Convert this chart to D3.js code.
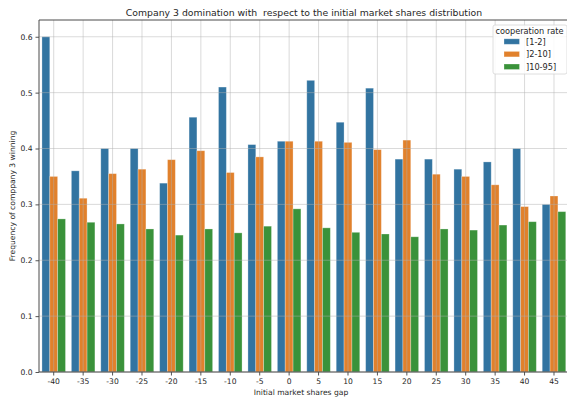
<!DOCTYPE html>
<html>
<head>
<meta charset="utf-8">
<script src="https://cdn.jsdelivr.net/npm/d3@7"></script>
<style>
  html, body { margin: 0; padding: 0; background: #fff; }
  svg { display: block; font-family: "DejaVu Sans", sans-serif; }
</style>
</head>
<body>
<svg id="chart" width="567" height="399"></svg>
<script>
// Initial market share gaps (x categories)
const gaps = [-40, -35, -30, -25, -20, -15, -10, -5, 0, 5, 10, 15, 20, 25, 30, 35, 40, 45];

// Cooperation rate groups
const rates = ["[1-2]", "]2-10]", "]10-95]"];

// Frequency of company 3 winning, one array per cooperation rate
const rateLow = [0.600, 0.360, 0.400, 0.400, 0.338, 0.456, 0.510, 0.407, 0.413, 0.522, 0.447, 0.508, 0.381, 0.381, 0.363, 0.376, 0.400, 0.300];
const rateMid = [0.350, 0.311, 0.355, 0.363, 0.380, 0.396, 0.357, 0.385, 0.413, 0.413, 0.411, 0.398, 0.415, 0.354, 0.350, 0.335, 0.296, 0.315];
const rateHigh = [0.274, 0.268, 0.265, 0.256, 0.245, 0.256, 0.249, 0.261, 0.292, 0.258, 0.250, 0.247, 0.242, 0.256, 0.254, 0.263, 0.269, 0.287];

const yTicks = [0.0, 0.1, 0.2, 0.3, 0.4, 0.5, 0.6];
const colors = ["#3274a1", "#e1812c", "#3a923a"];

const series = [rateLow, rateMid, rateHigh];
const rows = [];
gaps.forEach((g, i) => {
  series.forEach((s, k) => rows.push({ gap: g, rate: rates[k], value: s[i] }));
});

const svg = d3.select("#chart");
const margin = { left: 39, top: 20, right: 568.7, bottom: 372 };
const tickFont = 7.6;

const x = d3.scaleBand().domain(gaps).range([margin.left, margin.right]).padding(0);
const xInner = d3.scaleBand().domain(rates).range([0, x.bandwidth() * 0.8]);
const y = d3.scaleLinear().domain([0, 0.63]).range([margin.bottom, margin.top]);
const color = d3.scaleOrdinal().domain(rates).range(colors);

const plot = svg.append("g");

// bars
plot.selectAll("rect.bar")
  .data(rows)
  .join("rect")
  .attr("class", "bar")
  .attr("x", d => x(d.gap) + x.bandwidth() * 0.1 + xInner(d.rate))
  .attr("width", xInner.bandwidth())
  .attr("y", d => y(d.value))
  .attr("height", d => y(0) - y(d.value))
  .attr("fill", d => color(d.rate))
  .attr("stroke", "#ffffff")
  .attr("stroke-opacity", 0.35)
  .attr("stroke-width", 0.8);

// grid drawn above the bars
const grid = svg.append("g").attr("stroke", "#b0b0b0").attr("stroke-opacity", 0.6).attr("stroke-width", 0.8);
grid.selectAll("line.h")
  .data(yTicks)
  .join("line")
  .attr("class", "h")
  .attr("x1", margin.left).attr("x2", margin.right)
  .attr("y1", d => y(d)).attr("y2", d => y(d));
grid.selectAll("line.v")
  .data(gaps)
  .join("line")
  .attr("class", "v")
  .attr("x1", d => x(d) + x.bandwidth() / 2).attr("x2", d => x(d) + x.bandwidth() / 2)
  .attr("y1", margin.top).attr("y2", margin.bottom);

// axes
const xAxis = svg.append("g")
  .attr("transform", `translate(0,${margin.bottom})`)
  .call(d3.axisBottom(x).tickSize(3.5).tickPadding(3).tickFormat(d => d < 0 ? "-" + Math.abs(d) : d));
const yAxis = svg.append("g")
  .attr("transform", `translate(${margin.left},0)`)
  .call(d3.axisLeft(y).tickValues(yTicks).tickSize(3.5).tickPadding(3).tickFormat(d3.format(".1f")));

[xAxis, yAxis].forEach(a => {
  a.select(".domain").remove();
  a.selectAll("line").attr("stroke", "#555");
  a.selectAll("text").attr("fill", "#262626").attr("font-size", tickFont).attr("font-family", "DejaVu Sans");
});

// spines
const spines = svg.append("g").attr("stroke", "#4a4a4a").attr("stroke-width", 1);
spines.append("line").attr("x1", margin.left).attr("x2", margin.left).attr("y1", margin.top).attr("y2", margin.bottom);
spines.append("line").attr("x1", margin.left).attr("x2", margin.right).attr("y1", margin.bottom).attr("y2", margin.bottom);
spines.append("line").attr("x1", margin.left).attr("x2", margin.right).attr("y1", margin.top).attr("y2", margin.top);
spines.append("line").attr("x1", margin.right).attr("x2", margin.right).attr("y1", margin.top).attr("y2", margin.bottom);

// title and axis labels
svg.append("text")
  .attr("x", 304).attr("y", 15.5)
  .attr("text-anchor", "middle")
  .attr("font-size", 9.3).attr("fill", "#262626")
  .style("white-space", "pre")
  .text("Company 3 domination with  respect to the initial market shares distribution");

svg.append("text")
  .attr("x", 301).attr("y", 394.5)
  .attr("text-anchor", "middle")
  .attr("font-size", tickFont).attr("fill", "#262626")
  .text("Initial market shares gap");

svg.append("text")
  .attr("transform", `translate(15,${(margin.top + margin.bottom) / 2}) rotate(-90)`)
  .attr("text-anchor", "middle")
  .attr("font-size", tickFont).attr("fill", "#262626")
  .text("Frequency of comppany 3 winning");

// legend
const lg = svg.append("g").attr("transform", "translate(493,25)");
lg.append("rect")
  .attr("width", 74).attr("height", 49).attr("rx", 2)
  .attr("fill", "#ffffff").attr("fill-opacity", 0.85)
  .attr("stroke", "#d6d6d6").attr("stroke-width", 0.8);
lg.append("text")
  .attr("x", 36.5).attr("y", 8.7)
  .attr("text-anchor", "middle")
  .attr("font-size", 8.2).attr("fill", "#262626")
  .text("cooperation rate");
const items = lg.selectAll("g.item")
  .data(rates)
  .join("g")
  .attr("class", "item")
  .attr("transform", (d, i) => `translate(11,${13.8 + i * 12.6})`);
items.append("rect")
  .attr("width", 15.5).attr("height", 5.5)
  .attr("fill", d => color(d))
  .attr("stroke", "#ffffff").attr("stroke-opacity", 0.35).attr("stroke-width", 0.8);
items.append("text")
  .attr("x", 22).attr("y", 5.8)
  .attr("font-size", 8.2).attr("fill", "#262626")
  .text(d => d);
</script>
</body>
</html>
